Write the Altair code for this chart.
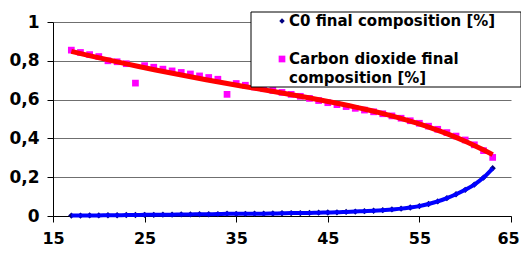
import altair as alt
import pandas as pd

x_vals = list(range(17, 64))
c0_final = [0.002, 0.002, 0.003, 0.003, 0.004, 0.004, 0.005, 0.005, 0.006, 0.006,
            0.007, 0.007, 0.008, 0.008, 0.009, 0.009, 0.010, 0.012, 0.011, 0.011,
            0.012, 0.012, 0.013, 0.014, 0.015, 0.015, 0.016, 0.017, 0.018, 0.019,
            0.021, 0.023, 0.025, 0.027, 0.030, 0.034, 0.038, 0.044, 0.051, 0.062,
            0.075, 0.092, 0.112, 0.135, 0.162, 0.198, 0.246]
co2_final = [0.855, 0.843, 0.832, 0.822, 0.800, 0.795, 0.785, 0.685, 0.775, 0.767,
             0.757, 0.748, 0.740, 0.732, 0.722, 0.714, 0.705, 0.627, 0.683, 0.674,
             0.665, 0.656, 0.647, 0.637, 0.627, 0.617, 0.606, 0.595, 0.584, 0.574,
             0.564, 0.555, 0.546, 0.537, 0.527, 0.516, 0.504, 0.491, 0.478, 0.463,
             0.447, 0.430, 0.412, 0.392, 0.367, 0.337, 0.302]
x_ticks = [15, 25, 35, 45, 55, 65]
y_ticks = [0, 0.2, 0.4, 0.6, 0.8, 1]
legend_c0 = "C0 final composition [%]"
legend_co2 = ["Carbon dioxide final", "composition [%]"]

df = pd.DataFrame({"x": x_vals, "c0": c0_final, "co2": co2_final})

xscale = alt.Scale(domain=[15, 65], nice=False, zero=False)
yscale = alt.Scale(domain=[0, 1], nice=False)

xaxis = alt.Axis(values=x_ticks, grid=False, tickSize=6, labelPadding=8,
                 labelFont="DejaVu Sans", labelFontWeight="bold", labelFontSize=16,
                 labelColor="black", domainColor="black", tickColor="black",
                 title=None, labelFlush=False, labelOverlap=False,
                 labelOffset=alt.condition("datum.value == 65", alt.value(-3), alt.value(0)))
yaxis = alt.Axis(values=y_ticks, grid=True, gridColor="#6f6f6f", gridWidth=1,
                 tickSize=6, labelPadding=8, labelOverlap=False, tickCount=6,
                 labelExpr="replace(format(datum.value, '~g'), '.', ',')",
                 labelFont="DejaVu Sans", labelFontWeight="bold", labelFontSize=17,
                 labelColor="black", domainColor="black", tickColor="black",
                 title=None)

X = alt.X("x:Q", scale=xscale, axis=xaxis)

base = alt.Chart(df)

squares = base.mark_point(shape="square", filled=True, size=45, color="#ff00ff", opacity=1).encode(
    x=X, y=alt.Y("co2:Q", scale=yscale, axis=yaxis))
red = base.transform_regression("x", "co2", method="poly", order=4, extent=[17, 63]).mark_line(
    color="#ff0000", strokeWidth=5).encode(
    x=X, y=alt.Y("co2:Q", scale=yscale, axis=yaxis))
diamonds = base.mark_point(shape="diamond", filled=True, size=40, color="#000080", opacity=1).encode(
    x=X, y=alt.Y("c0:Q", scale=yscale, axis=yaxis))
blue = base.mark_line(color="#0000ff", strokeWidth=4, interpolate="monotone").encode(
    x=X, y=alt.Y("c0:Q", scale=yscale, axis=yaxis))

one = alt.Data(values=[{}])
box = alt.Chart(one).mark_rect(fill="white", stroke="black", strokeWidth=1).encode(
    x=alt.value(198), x2=alt.value(468), y=alt.value(-10), y2=alt.value(65))
sym1 = alt.Chart(one).mark_point(shape="diamond", filled=True, size=30, color="#000080", opacity=1).encode(
    x=alt.value(229), y=alt.value(-1))
sym2 = alt.Chart(one).mark_point(shape="square", filled=True, size=45, color="#ff00ff", opacity=1).encode(
    x=alt.value(229), y=alt.value(37))

def legend_text(label, ypos):
    return alt.Chart(alt.Data(values=[{"label": label}])).mark_text(
        align="left", baseline="middle", font="DejaVu Sans", fontWeight="bold",
        fontSize=15, color="black").encode(
        x=alt.value(236), y=alt.value(ypos), text="label:N")

t1 = legend_text(legend_c0, -1)
t2 = legend_text(legend_co2[0], 37)
t3 = legend_text(legend_co2[1], 56)

chart = alt.layer(squares, red, diamonds, blue, box, sym1, sym2, t1, t2, t3).properties(
    width=458, height=194,
    autosize=alt.AutoSizeParams(type="none"),
    padding={"left": 45, "top": 14, "right": 10, "bottom": 33},
    background="white",
).configure_view(stroke=None)

chart.save("out.html", embed_options={"renderer": "svg", "actions": False})
